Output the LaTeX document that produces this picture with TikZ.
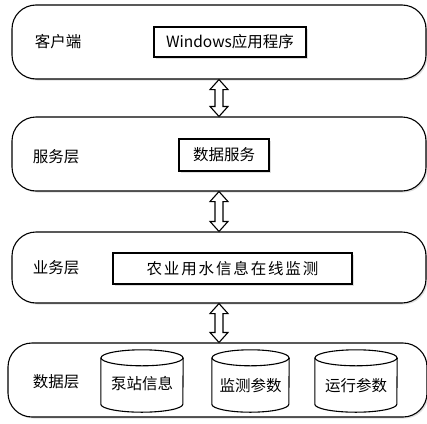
\documentclass[tikz,border=0pt]{standalone}
\usepackage{fontspec}
\setmainfont{Noto Sans CJK SC}
\usetikzlibrary{calc,shadows}
\begin{document}
\begin{tikzpicture}[x=1pt,y=-1pt,
  font=\fontsize{15.5}{18}\selectfont,
  layer/.style={draw, line width=1.1pt, rounded corners=24pt, fill=white,
    drop shadow={shadow xshift=1.5pt, shadow yshift=-1.5pt, opacity=0.25}},
  inbox/.style={draw, line width=1.1pt, fill=white, inner sep=0pt,
    drop shadow={shadow xshift=1.5pt, shadow yshift=-1.5pt, opacity=0.25}},
  dbnode/.style={inner sep=0pt},
  dbl/.style={draw, line width=1.1pt, fill=white, line join=miter},
  cyl/.style={draw, line width=1.1pt, fill=white}]
\useasboundingbox (0,0) rectangle (427,423);

% layers
\node[layer, minimum width=414pt, minimum height=74pt] (L1) at (219,42) {};
\node[layer, minimum width=414pt, minimum height=74pt] (L2) at (219,154) {};
\node[layer, minimum width=414pt, minimum height=71pt] (L3) at (219,267.5) {};
\node[layer, minimum width=419pt, minimum height=74pt] (L4) at (217.5,380) {};

% layer labels
\node (t1) at (58,42) {客户端};
\node (t2) at (56,157) {服务层};
\node (t3) at (56,268) {业务层};
\node (t4) at (56,382) {数据层};

% inner boxes
\node[inbox, minimum width=152pt, minimum height=30pt] (b1) at (230,42) {Windows应用程序};
\node[inbox, minimum width=90pt, minimum height=32pt] (b2) at (224,155) {数据服务};
\node[inbox, minimum width=239pt, minimum height=31pt] (b3) at (232.5,268.5) {\addfontfeature{LetterSpace=12}农业用水信息在线监测};

% double arrows
\foreach \a/\b in {L1/L2, L2/L3, L3/L4}{
  \draw[dbl] let \p1=(\a.south), \p2=(\b.north) in
    (\x1,\y1) -- (\x1+9pt,\y1-10pt) -- (\x1+4pt,\y1-10pt) -- (\x1+4pt,\y2+10pt)
    -- (\x1+9pt,\y2+10pt) -- (\x1,\y2) -- (\x1-9pt,\y2+10pt) -- (\x1-4pt,\y2+10pt)
    -- (\x1-4pt,\y1-10pt) -- (\x1-9pt,\y1-10pt) -- cycle;
}

% cylinders
\newcommand\dbcyl[3]{% name, center x, width
  \node[dbnode, minimum width=#3pt, minimum height=62pt] (#1) at (#2,381) {};
  \draw[cyl] ($(#1.north west)+(0,8)$) -- ($(#1.south west)+(0,-8)$)
    arc (180:0:#3/2 and 8) -- ($(#1.north east)+(0,8)$);
  \draw[cyl] ($(#1.north)+(0,8)$) ellipse ({#3/2} and 8);
}
\dbcyl{d1}{142}{82}
\dbcyl{d2}{250.5}{77}
\dbcyl{d3}{356}{82}
\node (l1) at (142,384) {泵站信息};
\node (l2) at (250.5,386) {监测参数};
\node (l3) at (356,386) {运行参数};
\end{tikzpicture}
\end{document}
